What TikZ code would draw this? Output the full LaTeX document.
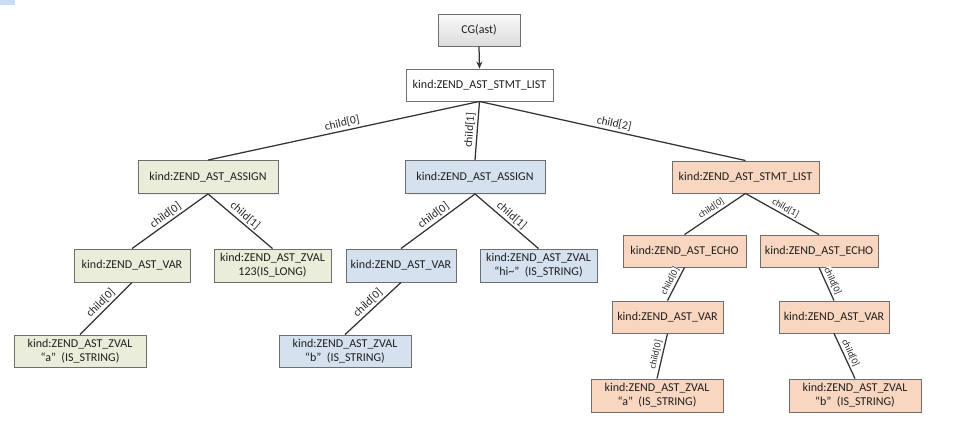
\documentclass[tikz,border=0pt]{standalone}
\usepackage{fontspec}
\setmainfont{Carlito}
\usetikzlibrary{arrows.meta,shadows}
\definecolor{gfill}{HTML}{E9EDD9}
\definecolor{bfill}{HTML}{D5E1EF}
\definecolor{ofill}{HTML}{F9D6C0}
\definecolor{bord}{HTML}{6E6E6E}
\definecolor{edge}{HTML}{333333}
\definecolor{sel}{HTML}{C9DCF5}
\tikzset{
  box/.style={draw=bord, line width=0.9pt, inner sep=1pt, align=center,
    font=\fontsize{12}{14}\selectfont, text=black!88,
    drop shadow={shadow xshift=1.2pt, shadow yshift=-1.2pt, fill=black!12}},
  gbox/.style={box, fill=gfill},
  bbox/.style={box, fill=bfill},
  obox/.style={box, fill=ofill},
  cgbox/.style={box, top color=gray!4, bottom color=gray!28},
  sz/.style 2 args={minimum width=#1pt, minimum height=#2pt},
  conn/.style={draw=edge, line width=1.25pt},
  lab/.style={midway, sloped, above=1.5pt, inner sep=0.5pt, fill=white, text=black!85,
    font=\fontsize{11.5}{12}\selectfont},
  olab/.style={lab, font=\fontsize{9.5}{10}\selectfont},
}
\begin{document}
\begin{tikzpicture}[x=1pt, y=-1pt]
\useasboundingbox (0,0) rectangle (971,426);
\fill[sel] (0,0) rectangle (15,5);

\node[cgbox, sz={82}{32}] (cg) at (479,30) {CG(ast)};
\node[box, fill=white, sz={147}{32}] (root) at (479.5,85) {kind:ZEND\_AST\_STMT\_LIST};

\node[gbox, sz={140}{33}] (ga) at (208,177) {kind:ZEND\_AST\_ASSIGN};
\node[bbox, sz={140}{33}] (ba) at (475,177) {kind:ZEND\_AST\_ASSIGN};
\node[obox, sz={147}{32}] (os) at (745.5,177) {kind:ZEND\_AST\_STMT\_LIST};

\node[gbox, sz={116}{33}] (gv) at (132,265.5) {kind:ZEND\_AST\_VAR};
\node[gbox, sz={117}{33}] (gz) at (272.5,265.5) {kind:ZEND\_AST\_ZVAL\\123(IS\_LONG)};
\node[bbox, sz={110}{33}] (bv) at (401,265.5) {kind:ZEND\_AST\_VAR};
\node[bbox, sz={117}{33}] (bz) at (538.5,265.5) {kind:ZEND\_AST\_ZVAL\\“hi\textasciitilde” \ (IS\_STRING)};

\node[obox, sz={123}{32}] (oe1) at (684.5,251) {kind:ZEND\_AST\_ECHO};
\node[obox, sz={118}{32}] (oe2) at (819,251) {kind:ZEND\_AST\_ECHO};
\node[obox, sz={111}{32}] (ov1) at (667.5,317) {kind:ZEND\_AST\_VAR};
\node[obox, sz={110}{32}] (ov2) at (834,317) {kind:ZEND\_AST\_VAR};
\node[obox, sz={132}{33}] (oza) at (657,395.5) {kind:ZEND\_AST\_ZVAL\\“a” \ (IS\_STRING)};
\node[obox, sz={132}{33}] (ozb) at (855,395.5) {kind:ZEND\_AST\_ZVAL\\“b” \ (IS\_STRING)};

\node[gbox, sz={132}{32}] (gza) at (80,351) {kind:ZEND\_AST\_ZVAL\\“a” \ (IS\_STRING)};
\node[bbox, sz={132}{32}] (bzb) at (345,351) {kind:ZEND\_AST\_ZVAL\\“b” \ (IS\_STRING)};

\draw[conn, -{Stealth[length=7pt, width=6pt]}] (cg.south) -- (root.north);

\draw[conn] (root.south) -- node[lab] {child[0]} (ga.north);
\draw[conn] (root.south) -- node[lab] {child[1]} (ba.north);
\draw[conn] (root.south) -- node[lab] {child[2]} (os.north);

\draw[conn] (ga.south) -- node[lab] {child[0]} (gv.north);
\draw[conn] (ga.south) -- node[lab] {child[1]} (gz.north);
\draw[conn] (gv.south) -- node[lab] {child[0]} (gza.north);

\draw[conn] (ba.south) -- node[lab] {child[0]} (bv.north);
\draw[conn] (ba.south) -- node[lab] {child[1]} (bz.north);
\draw[conn] (bv.south) -- node[lab] {child[0]} (bzb.north);

\draw[conn] (os.south) -- node[olab] {child[0]} (oe1.north);
\draw[conn] (os.south) -- node[olab] {child[1]} (oe2.north);
\draw[conn] (oe1.south) -- node[olab] {child[0]} (ov1.north);
\draw[conn] (ov1.south) -- node[olab] {child[0]} (oza.north);
\draw[conn] (oe2.south) -- node[olab] {child[0]} (ov2.north);
\draw[conn] (ov2.south) -- node[olab] {child[0]} (ozb.north);
\end{tikzpicture}
\end{document}
